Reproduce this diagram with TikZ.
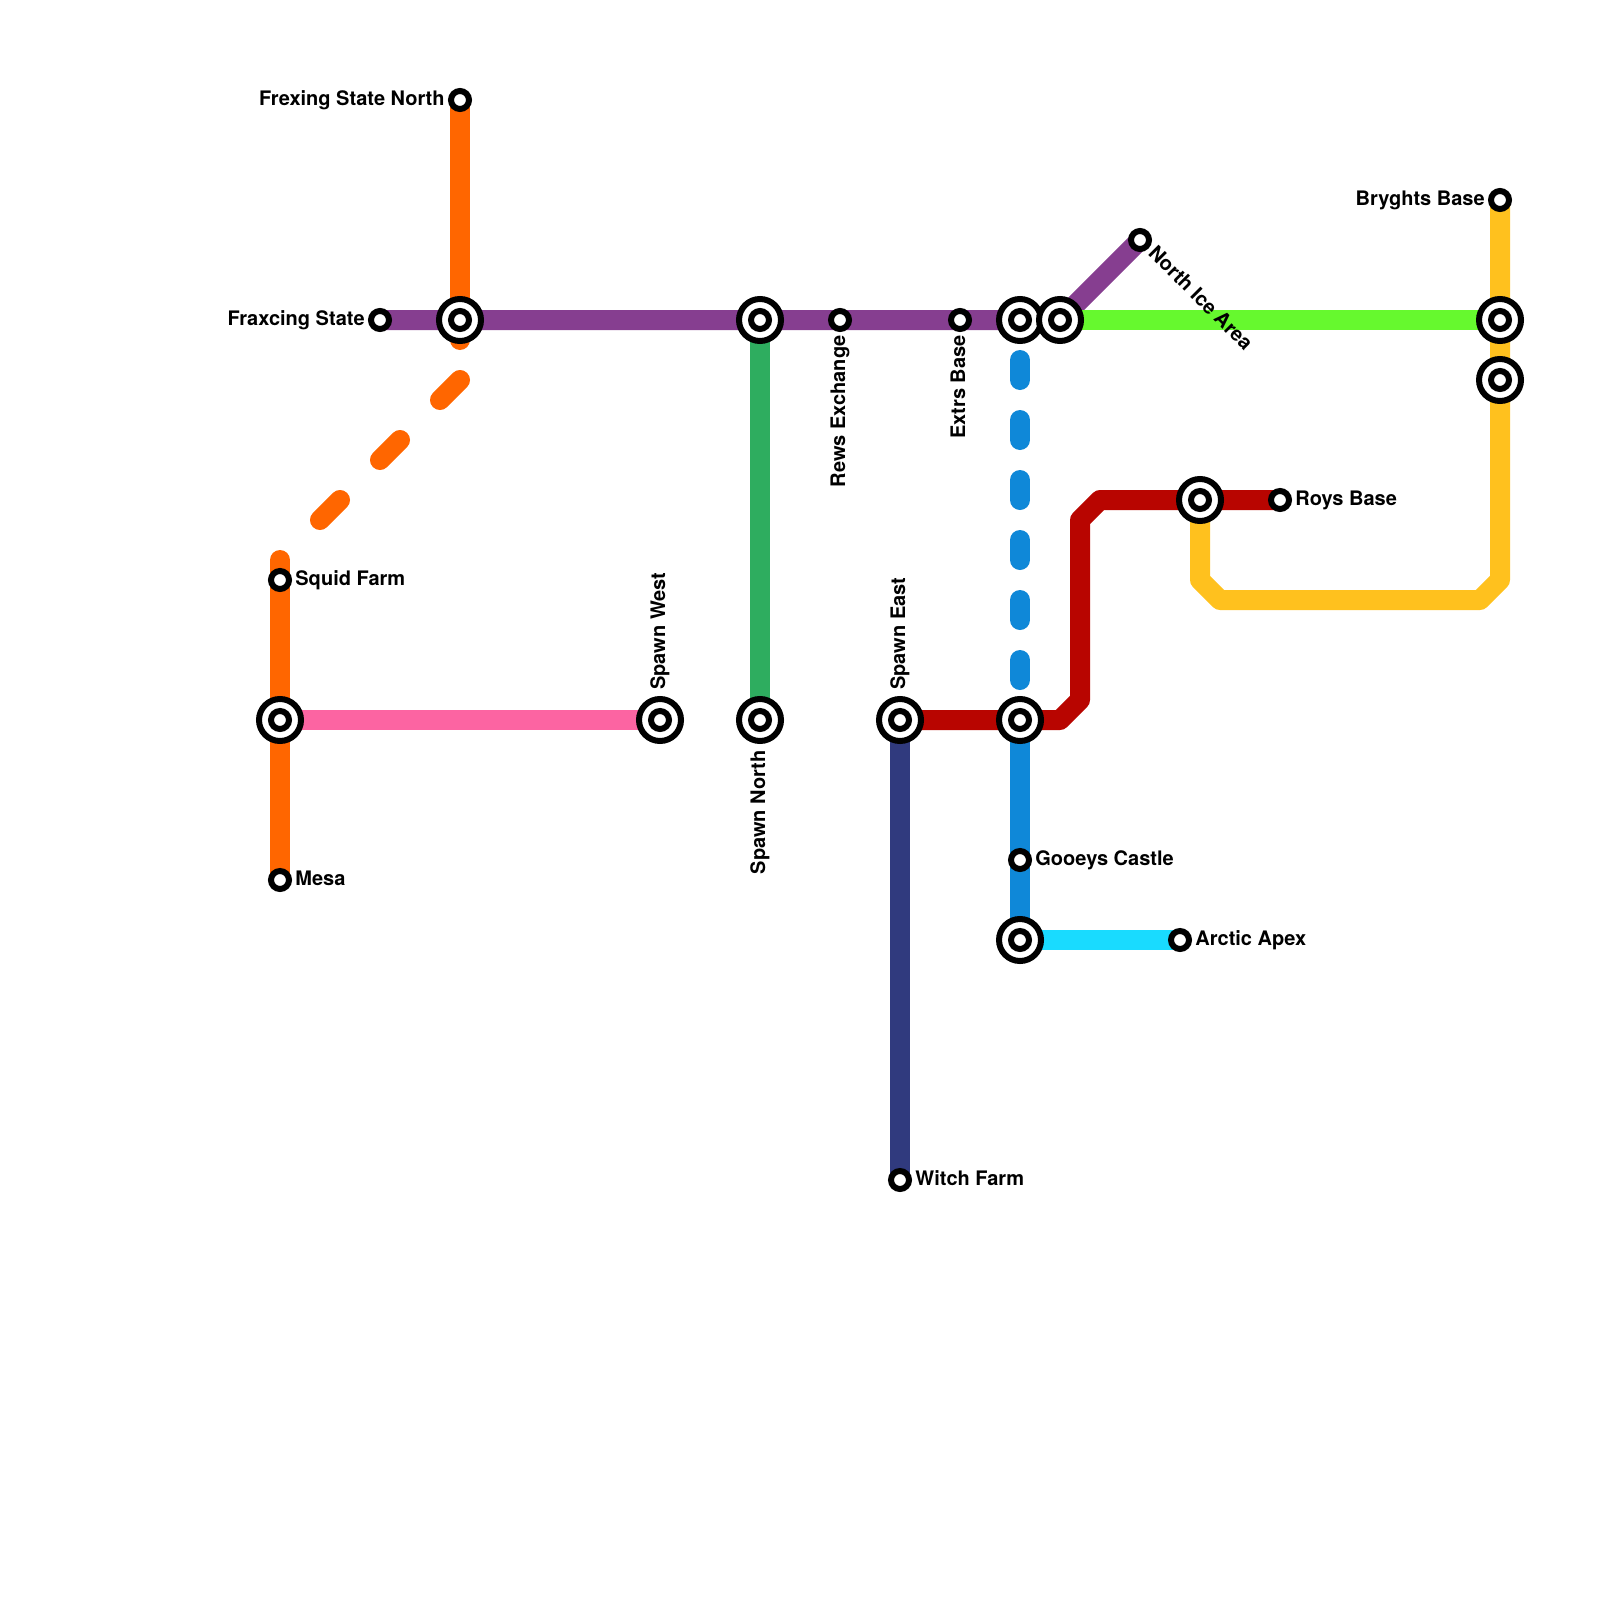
\documentclass[tikz,border=0pt]{standalone}
\usepackage{fontspec}
\setmainfont{TeX Gyre Heros}
\usetikzlibrary{backgrounds}
\definecolor{cOrange}{HTML}{FF6600}
\definecolor{cPurple}{HTML}{863E90}
\definecolor{cLime}{HTML}{66F92E}
\definecolor{cYellow}{HTML}{FFC11E}
\definecolor{cRed}{HTML}{B80500}
\definecolor{cBlue}{HTML}{0F88D8}
\definecolor{cCyan}{HTML}{19DBFF}
\definecolor{cPink}{HTML}{FC64A2}
\definecolor{cGreen}{HTML}{2EAD5F}
\definecolor{cNavy}{HTML}{303A7E}
\tikzset{
  metro/.style={line width=10pt,line cap=round,line join=round},
  metrodash/.style={metro,dash pattern=on 10pt off 20pt,dash phase=10pt},
  halt/.style={circle,draw=black,fill=white,line width=3pt,minimum size=9pt,inner sep=0pt},
  hub/.style={circle,draw=black,fill=white,line width=3pt,minimum size=21pt,inner sep=0pt,
    path picture={\draw[black,line width=3pt] (path picture bounding box.center) circle (4.5pt);}},
  lbl/.style={inner sep=0pt,font=\fontsize{10}{12}\selectfont\bfseries,text=black},
}
\begin{document}
\begin{tikzpicture}[x=0.5pt,y=-0.5pt]
\useasboundingbox (0,0) rectangle (1600,1600);
% stations
\node[halt] (frexing) at (460,100) {};
\node[halt] (fraxcing) at (380,320) {};
\node[hub]  (hubA) at (460,320) {};
\node[hub]  (spnorth) at (760,720) {};
\node[hub]  (hubB) at (760,320) {};
\node[halt] (rews) at (840,320) {};
\node[halt] (extrs) at (960,320) {};
\node[hub]  (hubC) at (1020,320) {};
\node[hub]  (hubD) at (1060,320) {};
\node[halt] (northice) at (1140,240) {};
\node[halt] (bryghts) at (1500,200) {};
\node[hub]  (hubE) at (1500,320) {};
\node[hub]  (hubF) at (1500,380) {};
\node[hub]  (hubG) at (1200,500) {};
\node[halt] (roys) at (1280,500) {};
\node[halt] (squid) at (280,580) {};
\node[hub]  (hubH) at (280,720) {};
\node[halt] (mesa) at (280,880) {};
\node[hub]  (spwest) at (660,720) {};
\node[hub]  (speast) at (900,720) {};
\node[hub]  (hubI) at (1020,720) {};
\node[halt] (gooeys) at (1020,860) {};
\node[hub]  (hubJ) at (1020,940) {};
\node[halt] (arctic) at (1180,940) {};
\node[halt] (witch) at (900,1180) {};
% route helpers
\coordinate (orA) at (460,340);
\coordinate (orB1) at (460,380);
\coordinate (orB2) at (440,400);
\coordinate (orC1) at (400,440);
\coordinate (orC2) at (380,460);
\coordinate (orD1) at (340,500);
\coordinate (orD2) at (320,520);
\coordinate (orE) at (280,560);
\coordinate (ye1) at (1500,580);
\coordinate (ye2) at (1480,600);
\coordinate (ye3) at (1220,600);
\coordinate (ye4) at (1200,580);
\coordinate (re1) at (1060,720);
\coordinate (re2) at (1080,700);
\coordinate (re3) at (1080,520);
\coordinate (re4) at (1100,500);
% lines
\begin{pgfonlayer}{background}
\draw[metro,cOrange] (frexing.center) -- (orA);
\draw[metro,cOrange] (orB1) -- (orB2);
\draw[metro,cOrange] (orC1) -- (orC2);
\draw[metro,cOrange] (orD1) -- (orD2);
\draw[metro,cOrange] (orE) -- (mesa.center);
\draw[metro,cPink] (hubH.center) -- (spwest.center);
\draw[metro,cGreen] (hubB.center) -- (spnorth.center);
\draw[metro,cPurple] (fraxcing.center) -- (hubD.center) -- (northice.center);
\draw[metro,cLime] (hubD.center) -- (hubE.center);
\draw[metro,cYellow] (bryghts.center) -- (ye1) -- (ye2) -- (ye3) -- (ye4) -- (hubG.center);
\draw[metro,cNavy] (speast.center) -- (witch.center);
\draw[metro,cRed] (speast.center) -- (re1) -- (re2) -- (re3) -- (re4) -- (roys.center);
\draw[metrodash,cBlue] (hubC.center) -- (hubI.center);
\draw[metro,cBlue] (hubI.center) -- (hubJ.center);
\draw[metro,cCyan] (hubJ.center) -- (arctic.center);
\end{pgfonlayer}
% labels
\node[lbl,anchor=base east] (tFrexing) at (445,105) {Frexing State North};
\node[lbl,anchor=base east] (tFraxcing) at (365,325) {Fraxcing State};
\node[lbl,anchor=base west] (tSquid) at (295,585) {Squid Farm};
\node[lbl,anchor=base west] (tMesa) at (295,885) {Mesa};
\node[lbl,anchor=base west,rotate=90] (tWest) at (665,690) {Spawn West};
\node[lbl,anchor=base east,rotate=90] (tNorth) at (765,750) {Spawn North};
\node[lbl,anchor=base west,rotate=90] (tEast) at (905,690) {Spawn East};
\node[lbl,anchor=base east,rotate=90] (tRews) at (845,335) {Rews Exchange};
\node[lbl,anchor=base east,rotate=90] (tExtrs) at (965,335) {Extrs Base};
\node[lbl,anchor=base west,rotate=-45] (tNorthIce) at (1147,254) {North Ice Area};
\node[lbl,anchor=base east] (tBryghts) at (1485,205) {Bryghts Base};
\node[lbl,anchor=base west] (tRoys) at (1295,505) {Roys Base};
\node[lbl,anchor=base west] (tGooeys) at (1035,865) {Gooeys Castle};
\node[lbl,anchor=base west] (tArctic) at (1195,945) {Arctic Apex};
\node[lbl,anchor=base west] (tWitch) at (915,1185) {Witch Farm};
\end{tikzpicture}
\end{document}
